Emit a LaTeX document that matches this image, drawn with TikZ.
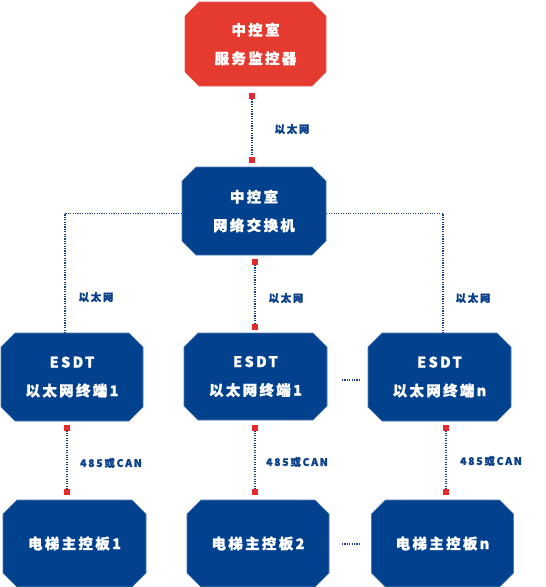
\documentclass[tikz,border=0pt]{standalone}
\usepackage{fontspec}
\usetikzlibrary{shapes.misc}
\newfontfamily\cjkbox[LetterSpace=16,BoldFeatures={FakeBold=1.3}]{Noto Sans CJK SC}
\newfontfamily\cjklab[LetterSpace=16,BoldFeatures={FakeBold=1.2}]{Noto Sans CJK SC}
\definecolor{boxblue}{HTML}{02418E}
\definecolor{boxred}{HTML}{E43A30}
\definecolor{sqred}{HTML}{E52A2C}
\definecolor{linblue}{HTML}{173F88}
\definecolor{labblue}{HTML}{0A3F8A}
\tikzset{
  cbox/.style={chamfered rectangle, chamfered rectangle xsep=7pt, chamfered rectangle ysep=7pt,
    fill=boxblue, draw=boxblue!70!white, line width=0.6pt, text=white, align=center, inner sep=0pt,
    font=\cjkbox\bfseries\fontsize{14.5}{28.5}\selectfont},
  redbox/.style={cbox, fill=boxred, draw=boxred!80!white},
  sq/.style={fill=sqred, minimum size=6pt, inner sep=0pt, outer sep=0pt},
  dotln/.style={draw=linblue, line width=1.2pt, dash pattern=on 1.1pt off 1.3pt},
  lab/.style={text=labblue, font=\cjklab\bfseries\fontsize{10.5}{12}\selectfont, inner sep=0pt},
}
\begin{document}
\begin{tikzpicture}[x=1pt,y=-1pt]
\useasboundingbox (0,0) rectangle (546,587);
% boxes
\node[redbox, minimum width=141pt, minimum height=84pt] (srv) at (255.5,44) {中控室\\服务监控器};
\node[cbox, minimum width=144pt, minimum height=88pt] (sw) at (254,211) {中控室\\网络交换机};
\node[cbox, minimum width=142pt, minimum height=88pt] (e1) at (72,377) {ESDT\\以太网终端1};
\node[cbox, minimum width=143pt, minimum height=87pt] (e2) at (255.5,376.5) {ESDT\\以太网终端1};
\node[cbox, minimum width=143pt, minimum height=88pt] (en) at (439.5,377) {ESDT\\以太网终端n};
\node[cbox, minimum width=143pt, minimum height=87pt] (b1) at (74.5,543.5) {电梯主控板1};
\node[cbox, minimum width=142pt, minimum height=87pt] (b2) at (258,543.5) {电梯主控板2};
\node[cbox, minimum width=142pt, minimum height=87pt] (bn) at (442.5,543.5) {电梯主控板n};
% red squares
\node[sq] (q1) at (252,96) {};
\node[sq] (q2) at (252,159.5) {};
\node[sq] (q3) at (255,262) {};
\node[sq] (q4) at (255,326.5) {};
\node[sq] (q5) at (67,427.5) {};
\node[sq] (q6) at (67,492) {};
\node[sq] (q7) at (255,427.5) {};
\node[sq] (q8) at (255,492) {};
\node[sq] (q9) at (446,427.5) {};
\node[sq] (q10) at (446,492) {};
% coordinates for elbow lines
\coordinate (cl) at (65,213.5);
\coordinate (cr) at (443,213.5);
\coordinate (cle) at (65,333);
\coordinate (cre) at (443,334);
% connectors
\draw[dotln] (q1) -- (q2);
\draw[dotln] (q3) -- (q4);
\draw[dotln] (q5) -- (q6);
\draw[dotln] (q7) -- (q8);
\draw[dotln] (q9) -- (q10);
\draw[dotln] (sw.west |- cl) -- (cl) -- (cle);
\draw[dotln] (sw.east |- cr) -- (cr) -- (cre);
% ellipsis dots
\coordinate (d1a) at (342,380);
\coordinate (d1b) at (361,380);
\coordinate (d2a) at (342,544);
\coordinate (d2b) at (361,544);
\draw[dotln] (d1a) -- (d1b);
\draw[dotln] (d2a) -- (d2b);
% labels
\node[lab] (l1) at (292,129) {以太网};
\node[lab] (l2) at (96,297) {以太网};
\node[lab] (l3) at (286,298) {以太网};
\node[lab] (l4) at (473,298) {以太网};
\node[lab] (l5) at (111,463) {485或CAN};
\node[lab] (l6) at (297,462) {485或CAN};
\node[lab] (l7) at (491,461) {485或CAN};
\end{tikzpicture}
\end{document}
